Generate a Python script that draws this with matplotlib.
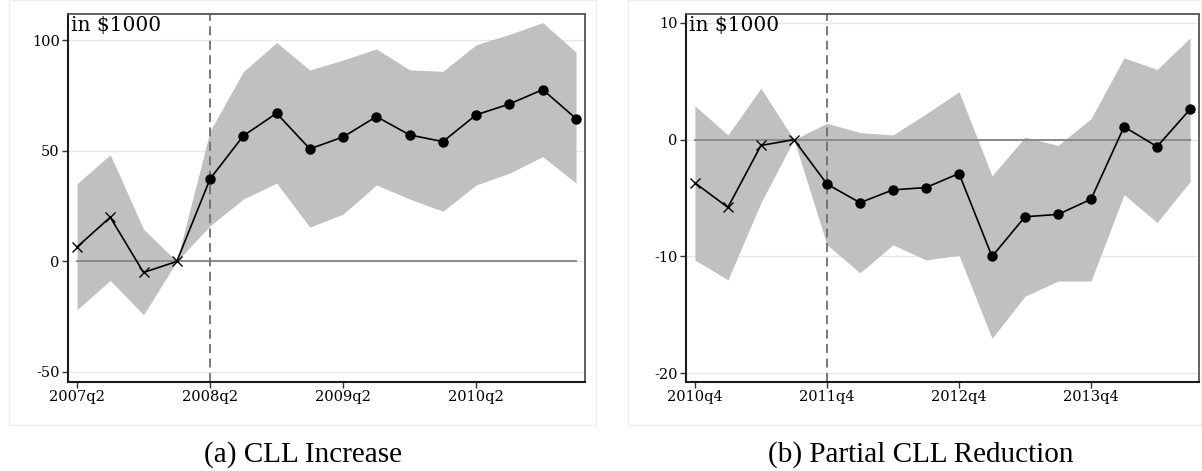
import numpy as np
import matplotlib.pyplot as plt
from matplotlib.patches import Rectangle

# Panel (a): CLL increase, 2007q2 - 2011q1, reference quarter 2008q1
quarters_a = ['2007q2', '2007q3', '2007q4', '2008q1', '2008q2', '2008q3', '2008q4', '2009q1',
              '2009q2', '2009q3', '2009q4', '2010q1', '2010q2', '2010q3', '2010q4', '2011q1']
coef_a = [6.5, 20.0, -5.0, 0.0, 37.3, 56.8, 67.0, 50.9,
          56.3, 65.5, 57.2, 54.2, 66.3, 71.2, 77.7, 64.6]
upper_a = [35.1, 48.3, 14.6, 0.0, 59.0, 85.8, 99.0, 86.6,
           91.1, 96.1, 86.6, 86.0, 98.0, 102.7, 108.0, 94.6]
lower_a = [-21.8, -8.6, -24.1, 0.0, 16.1, 28.2, 35.4, 15.5,
           21.4, 34.6, 28.2, 22.7, 34.6, 39.9, 47.4, 35.4]
yticks_a = [-50, 0, 50, 100]

# Panel (b): partial CLL reduction, 2010q4 - 2014q3, reference quarter 2011q3
quarters_b = ['2010q4', '2011q1', '2011q2', '2011q3', '2011q4', '2012q1', '2012q2', '2012q3',
              '2012q4', '2013q1', '2013q2', '2013q3', '2013q4', '2014q1', '2014q2', '2014q3']
coef_b = [-3.7, -5.8, -0.5, 0.0, -3.8, -5.4, -4.3, -4.1,
          -2.9, -10.0, -6.6, -6.4, -5.1, 1.1, -0.6, 2.6]
upper_b = [2.9, 0.4, 4.4, 0.0, 1.4, 0.6, 0.4, 2.2,
           4.1, -3.1, 0.2, -0.5, 1.8, 7.0, 6.0, 8.7]
lower_b = [-10.3, -12.0, -5.4, 0.0, -9.0, -11.4, -9.0, -10.3,
           -9.9, -17.0, -13.4, -12.1, -12.1, -4.7, -7.1, -3.6]
yticks_b = [-20, -10, 0, 10]

n_pre = 4  # quarters before treatment, drawn with x markers
tick_every = 4

TICK_FONT = 'DejaVu Serif'
CAPTION_FONT = 'Liberation Serif'
W, H = 1202, 471


def draw_panel(fig, rect, quarters, coef, upper, lower, yticks, ylim):
    ax = fig.add_axes(rect)
    x = np.arange(len(quarters))

    for yt in yticks:
        ax.axhline(yt, color='#e6e6e6', linewidth=1.0, zorder=0)
    ax.fill_between(x, lower, upper, color='#c0c0c0', linewidth=0, zorder=1)
    ax.plot([x[0], x[-1]], [0, 0], color='#8a8a8a', linewidth=1.4, zorder=2)
    ax.axvline(x[n_pre], color='#6e6e6e', linewidth=1.3, linestyle=(0, (5, 3)), zorder=2)

    ax.plot(x, coef, color='black', linewidth=1.2, zorder=3)
    ax.plot(x[:n_pre], coef[:n_pre], linestyle='none', marker='x', color='black',
            markersize=7, markeredgewidth=1.0, zorder=4)
    ax.plot(x[n_pre:], coef[n_pre:], linestyle='none', marker='o', color='black',
            markersize=6.5, zorder=4)

    ax.set_xlim(-0.27, len(quarters) - 1 + 0.27)
    ax.set_ylim(*ylim)
    ax.set_xticks(x[::tick_every])
    ax.set_xticklabels(quarters[::tick_every])
    ax.set_yticks(yticks)
    ax.set_yticklabels([str(v) for v in yticks])
    ax.tick_params(direction='out', length=4, width=1.0, color='#333333',
                   labelsize=10.5, pad=2)
    for lab in ax.get_xticklabels() + ax.get_yticklabels():
        lab.set_fontfamily(TICK_FONT)

    for side in ['left', 'bottom']:
        ax.spines[side].set_color('#1a1a1a')
        ax.spines[side].set_linewidth(1.5)
    for side in ['top', 'right']:
        ax.spines[side].set_color('#555555')
        ax.spines[side].set_linewidth(1.3)

    ax.text(0.005, 0.995, 'in $1000', transform=ax.transAxes, ha='left', va='top',
            fontsize=14.5, fontfamily=TICK_FONT, color='black', zorder=5)
    return ax


fig = plt.figure(figsize=(W / 100, H / 100), dpi=100)

# faint graph-region outlines
fig.patches.append(Rectangle((9 / W, 1 - 425 / H), (596 - 9) / W, 425 / H,
                             transform=fig.transFigure, fill=False,
                             edgecolor='#eeeeee', linewidth=1.0))
fig.patches.append(Rectangle((628 / W, 1 - 425 / H), (1201 - 628) / W, 425 / H,
                             transform=fig.transFigure, fill=False,
                             edgecolor='#eeeeee', linewidth=1.0))

draw_panel(fig, [68 / W, 1 - 381.5 / H, (585 - 68) / W, (381.5 - 14) / H],
           quarters_a, coef_a, upper_a, lower_a, yticks_a, (-54.3, 111.9))
draw_panel(fig, [686 / W, 1 - 381.5 / H, (1199 - 686) / W, (381.5 - 14) / H],
           quarters_b, coef_b, upper_b, lower_b, yticks_b, (-20.7, 10.75))

fig.text(303 / W, 1 - 455 / H, '(a) CLL Increase', ha='center', va='center',
         fontsize=21, fontfamily=CAPTION_FONT)
fig.text(921 / W, 1 - 455 / H, '(b) Partial CLL Reduction', ha='center', va='center',
         fontsize=21, fontfamily=CAPTION_FONT)

fig.savefig('out.png', dpi=100)
